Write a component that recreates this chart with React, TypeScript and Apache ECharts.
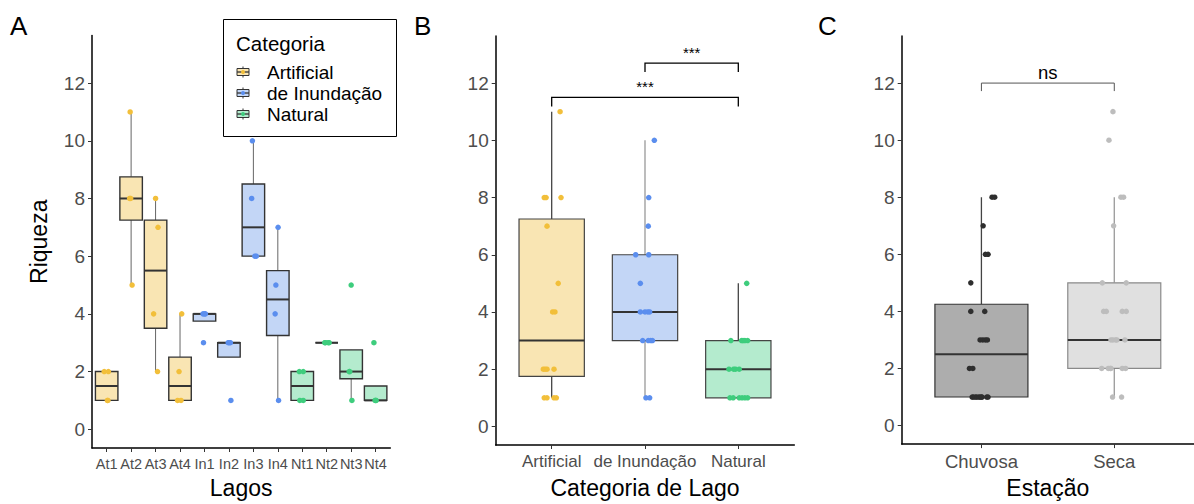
import React, { useEffect, useRef } from "react";
import * as echarts from "echarts";

const FONT = "'Liberation Sans', Arial, Helvetica, sans-serif";

// ---------- Panel A: lakes ----------
const lakes = ["At1", "At2", "At3", "At4", "In1", "In2", "In3", "In4", "Nt1", "Nt2", "Nt3", "Nt4"];
const lakeGroup = [0, 0, 0, 0, 1, 1, 1, 1, 2, 2, 2, 2];
const lakeValues = [
  [2, 2, 1, 1],
  [11, 8, 8, 5],
  [8, 7, 4, 2],
  [4, 2, 1, 1],
  [4, 4, 4, 3],
  [3, 3, 3, 1],
  [10, 8, 6, 6],
  [7, 5, 4, 1],
  [2, 2, 1, 1],
  [3, 3, 3, 3],
  [5, 2, 2, 1],
  [3, 1, 1, 1],
];
const lakeJitter = [
  [-0.1, 0.07, 0.03, 0.05],
  [-0.04, -0.06, -0.02, 0.04],
  [0, 0.1, -0.08, 0.08],
  [0.07, -0.04, -0.1, 0.04],
  [-0.06, 0.0, 0.04, -0.04],
  [-0.03, 0.01, 0.06, 0.08],
  [-0.04, -0.07, 0.06, 0.12],
  [0.01, -0.08, -0.11, 0.03],
  [-0.12, 0.04, -0.1, 0.04],
  [-0.08, -0.05, 0.06, 0.1],
  [0, -0.08, -0.06, 0.03],
  [-0.07, -0.02, 0, 0.02],
];

// ---------- Panel B: lake category ----------
const groups = ["Artificial", "de Inundação", "Natural"];
const groupPoint = ["#F2BF3A", "#5B8EEE", "#3ECD7D"];
const groupFill = ["#F9E5B3", "#C3D6F6", "#B4EBCE"];
const groupValues = [
  [11, 8, 8, 8, 7, 5, 4, 4, 2, 2, 2, 2, 1, 1, 1, 1],
  [10, 8, 7, 6, 6, 5, 4, 4, 4, 4, 3, 3, 3, 3, 1, 1],
  [5, 3, 3, 3, 3, 3, 2, 2, 2, 2, 1, 1, 1, 1, 1, 1],
];
const groupJitter = [
  [0.09, -0.08, -0.06, 0.1, -0.05, 0.07, 0.01, 0.035, -0.09, -0.07, -0.05, 0.025, -0.08, -0.05, 0.025, 0.05],
  [0.1, 0.04, 0.035, -0.1, 0.04, -0.05, -0.05, 0, 0.03, 0.05, -0.025, 0.035, 0.06, 0.08, 0.01, 0.05],
  [0.09, -0.08, 0.035, 0.05, 0.07, 0.1, -0.1, -0.05, -0.03, 0.01, -0.09, -0.055, 0.01, 0.04, 0.07, 0.1],
];
const groupWhisker = ["#444444", "#999999", "#444444"];

// ---------- Panel C: season ----------
const seasons = ["Chuvosa", "Seca"];
const seasonValues = [
  [8, 8, 7, 6, 6, 5, 4, 4, 3, 3, 3, 3, 2, 2, 1, 1, 1, 1, 1, 1, 1, 1, 1, 1],
  [11, 10, 8, 8, 7, 5, 5, 4, 4, 4, 4, 3, 3, 3, 3, 3, 2, 2, 2, 2, 2, 2, 1, 1],
];
const seasonJitter = [
  [0.08, 0.1, 0.013, 0.03, 0.05, -0.08, -0.08, 0.025, -0.01, 0.01, 0.03, 0.045, -0.09, -0.065, -0.07, -0.06, -0.045, -0.035, -0.02, -0.01, 0, 0.005, 0.04, 0.05],
  [-0.01, -0.04, 0.05, 0.07, -0.005, -0.09, 0.09, -0.08, -0.06, 0.06, 0.09, -0.025, -0.01, 0.01, 0.02, 0.08, -0.095, -0.045, -0.03, -0.025, 0.06, 0.085, -0.013, 0.055],
];
const seasonPoint = ["#2E2E2E", "#BDBDBD"];
const seasonFill = ["#ADADAD", "#E0E0E0"];
const seasonBorder = ["#333333", "#8A8A8A"];
const seasonWhisker = ["#444444", "#999999"];

// ---------- significance brackets ----------
const bracketFromB = [1, 2];
const bracketToB = [3, 3];
const bracketYB = [11.5, 12.7];
const bracketLabelB = ["***", "***"];
const bracketFromC = [1];
const bracketToC = [2];
const bracketYC = [12.0];
const bracketLabelC = ["ns"];

const yTicks = [0, 2, 4, 6, 8, 10, 12];

function quant(s: number[], p: number) {
  const h = (s.length - 1) * p;
  const lo = Math.floor(h);
  const hi = Math.min(lo + 1, s.length - 1);
  return s[lo] + (h - lo) * (s[hi] - s[lo]);
}
function boxStats(vals: number[]) {
  const s = [...vals].sort((a, b) => a - b);
  const q1 = quant(s, 0.25), med = quant(s, 0.5), q3 = quant(s, 0.75);
  const iqr = q3 - q1;
  const lo = s.find((v) => v >= q1 - 1.5 * iqr) as number;
  const hi = [...s].reverse().find((v) => v <= q3 + 1.5 * iqr) as number;
  return [q1, med, q3, lo, hi];
}

function boxSeries(
  idx: number,
  valueArrays: number[][],
  boxW: number,
  fill: (i: number) => string,
  border: (i: number) => string,
  whisker: (i: number) => string,
  borderW: number,
  whiskerW: number,
  medianW: number
) {
  const data = valueArrays.map((v, i) => [i + 1, ...boxStats(v)]);
  return {
    type: "custom",
    xAxisIndex: idx,
    yAxisIndex: idx,
    data,
    clip: false,
    z: 2,
    encode: { x: 0, y: [1, 2, 3, 4, 5] },
    renderItem: (params: any, api: any) => {
      const i = params.dataIndex;
      const x = api.value(0);
      const half = api.size([boxW, 0])[0] / 2;
      const pQ1 = api.coord([x, api.value(1)]);
      const pMed = api.coord([x, api.value(2)]);
      const pQ3 = api.coord([x, api.value(3)]);
      const pLo = api.coord([x, api.value(4)]);
      const pHi = api.coord([x, api.value(5)]);
      return {
        type: "group",
        children: [
          { type: "line", shape: { x1: pQ3[0], y1: pQ3[1], x2: pHi[0], y2: pHi[1] }, style: { stroke: whisker(i), lineWidth: whiskerW } },
          { type: "line", shape: { x1: pQ1[0], y1: pQ1[1], x2: pLo[0], y2: pLo[1] }, style: { stroke: whisker(i), lineWidth: whiskerW } },
          {
            type: "rect",
            shape: { x: pQ1[0] - half, y: pQ3[1], width: 2 * half, height: pQ1[1] - pQ3[1] },
            style: { fill: fill(i), stroke: border(i), lineWidth: borderW },
          },
          { type: "line", shape: { x1: pMed[0] - half, y1: pMed[1], x2: pMed[0] + half, y2: pMed[1] }, style: { stroke: "#333333", lineWidth: medianW } },
        ],
      };
    },
  };
}

function pointSeries(idx: number, center: number, vals: number[], jit: number[], color: string) {
  return {
    type: "scatter",
    xAxisIndex: idx,
    yAxisIndex: idx,
    symbolSize: 5.5,
    z: 5,
    itemStyle: { color, opacity: 1 },
    data: vals.map((v, i) => [center + jit[i], v]),
  };
}

function bracketSeries(idx: number, from: number[], to: number[], ys: number[], labels: string[], color: string, fontSize: number, lw: number, drop: number, gap: number) {
  return {
    type: "custom",
    xAxisIndex: idx,
    yAxisIndex: idx,
    clip: false,
    z: 6,
    data: from.map((f, i) => [f, to[i], ys[i]]),
    encode: { x: [0, 1], y: 2 },
    renderItem: (params: any, api: any) => {
      const i = params.dataIndex;
      const a = api.coord([api.value(0), api.value(2)]);
      const b = api.coord([api.value(1), api.value(2)]);
      return {
        type: "group",
        children: [
          {
            type: "polyline",
            shape: { points: [[a[0], a[1] + drop], a, b, [b[0], b[1] + drop]] },
            style: { stroke: color, lineWidth: lw, fill: "none" },
          },
          {
            type: "text",
            style: {
              text: labels[i],
              x: (a[0] + b[0]) / 2,
              y: a[1] - gap,
              align: "center",
              verticalAlign: "bottom",
              fontSize,
              fontFamily: FONT,
              fill: "#000000",
            },
          },
        ],
      };
    },
  };
}

const grids = [
  { left: 92, top: 35.5, width: 298.3, height: 414.6 },
  { left: 495.7, top: 35.9, width: 298.6, height: 411.1 },
  { left: 901.7, top: 36, width: 295.5, height: 409.9 },
];
const xNames = ["Lagos", "Categoria de Lago", "Estação"];
const xCats = [lakes, groups, seasons];
const xLabelSize = [14.5, 17, 18.5];

export default function App() {
  const ref = useRef<HTMLDivElement>(null);
  useEffect(() => {
    document.body.style.margin = "0";
    const chart = echarts.init(ref.current!, null, { renderer: "svg" });

    const xAxis = xCats.map((cats, k) => ({
      type: "value",
      gridIndex: k,
      min: 0.4,
      max: k === 2 ? 2.6 : cats.length + 0.6,
      name: xNames[k],
      nameLocation: "middle",
      nameGap: k === 0 ? 28 : 31,
      nameTextStyle: { fontFamily: FONT, fontSize: 23, color: "#000000" },
      splitLine: { show: false },
      axisLine: { show: true, onZero: false, lineStyle: { color: "#000000", width: 1.5 } },
      axisTick: { show: true, length: 4, lineStyle: { color: "#333333", width: 1 }, customValues: cats.map((_, i) => i + 1) },
      axisLabel: {
        show: true,
        customValues: cats.map((_, i) => i + 1),
        formatter: (v: number) => cats[Math.round(v) - 1] ?? "",
        fontFamily: FONT,
        fontSize: xLabelSize[k],
        color: "#4D4D4D",
        margin: k === 0 ? 8 : 8,
      },
    }));

    const yAxis = [0, 1, 2].map((k) => ({
      type: "value",
      gridIndex: k,
      min: -0.65,
      max: 13.65,
      name: k === 0 ? "Riqueza" : "",
      nameLocation: "middle",
      nameGap: 42,
      nameTextStyle: { fontFamily: FONT, fontSize: 23, color: "#000000" },
      splitLine: { show: false },
      axisLine: { show: true, onZero: false, lineStyle: { color: "#000000", width: 1.5 } },
      axisTick: { show: true, length: 4, lineStyle: { color: "#333333", width: 1 }, customValues: yTicks },
      axisLabel: {
        show: true,
        customValues: yTicks,
        fontFamily: FONT,
        fontSize: 19,
        color: "#4D4D4D",
        margin: 7,
      },
    }));

    const series: any[] = [];
    series.push(boxSeries(0, lakeValues, 0.92, (i) => groupFill[lakeGroup[i]], () => "#333333", () => "#666666", 1.4, 1, 2));
    lakeValues.forEach((vals, i) => series.push(pointSeries(0, i + 1, vals, lakeJitter[i], groupPoint[lakeGroup[i]])));
    series.push(boxSeries(1, groupValues, 0.7, (i) => groupFill[i], () => "#444444", (i) => groupWhisker[i], 1.2, 1.3, 2));
    groupValues.forEach((vals, i) => series.push(pointSeries(1, i + 1, vals, groupJitter[i], groupPoint[i])));
    series.push(bracketSeries(1, bracketFromB, bracketToB, bracketYB, bracketLabelB, "#000000", 15, 1.3, 9, 3));
    series.push(boxSeries(2, seasonValues, 0.7, (i) => seasonFill[i], (i) => seasonBorder[i], (i) => seasonWhisker[i], 1.2, 1.3, 2));
    seasonValues.forEach((vals, i) => series.push(pointSeries(2, i + 1, vals, seasonJitter[i], seasonPoint[i])));
    series.push(bracketSeries(2, bracketFromC, bracketToC, bracketYC, bracketLabelC, "#555555", 18.5, 1, 8, 1));

    const legendRows = [72, 93, 114];
    const legendChildren: any[] = [
      { type: "rect", shape: { x: 223.5, y: 19.5, width: 173, height: 117 }, style: { fill: "#ffffff", stroke: "#000000", lineWidth: 1 } },
      { type: "text", style: { text: "Categoria", x: 236, y: 43, verticalAlign: "middle", fontFamily: FONT, fontSize: 20.5, fill: "#000000" } },
    ];
    groups.forEach((g, i) => {
      const y = legendRows[i];
      legendChildren.push(
        { type: "line", shape: { x1: 243, y1: y - 5.5, x2: 243, y2: y + 5.5 }, style: { stroke: "#333333", lineWidth: 1 } },
        { type: "rect", shape: { x: 237, y: y - 3.5, width: 12, height: 7 }, style: { fill: groupFill[i], stroke: "#333333", lineWidth: 1 } },
        { type: "line", shape: { x1: 237, y1: y, x2: 249, y2: y }, style: { stroke: "#333333", lineWidth: 1.3 } },
        { type: "circle", shape: { cx: 243, cy: y, r: 2 }, style: { fill: groupPoint[i] } },
        { type: "text", style: { text: g, x: 267, y, verticalAlign: "middle", fontFamily: FONT, fontSize: 19, fill: "#000000" } }
      );
    });

    chart.setOption({
      animation: false,
      backgroundColor: "#ffffff",
      grid: grids,
      xAxis,
      yAxis,
      series,
      graphic: [
        { type: "text", style: { text: "A", x: 10, y: 13, fontFamily: FONT, fontSize: 26, fill: "#000000" } },
        { type: "text", style: { text: "B", x: 414, y: 13, fontFamily: FONT, fontSize: 26, fill: "#000000" } },
        { type: "text", style: { text: "C", x: 818, y: 13, fontFamily: FONT, fontSize: 26, fill: "#000000" } },
        { type: "group", z: 100, children: legendChildren },
      ],
    });
    return () => chart.dispose();
  }, []);
  return <div ref={ref} style={{ width: 1194, height: 504 }} />;
}
